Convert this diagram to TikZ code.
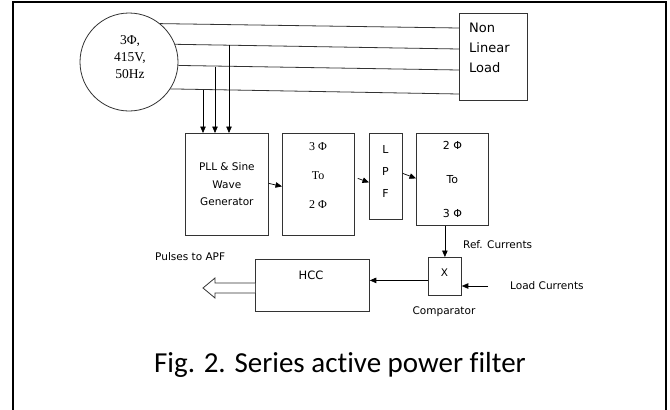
\documentclass[tikz,border=0pt]{standalone}
\usepackage{fontspec}
\setmainfont{Liberation Serif}
\setsansfont{DejaVu Sans}
\newfontfamily\legenda[Ligatures={NoCommon,NoContextual}]{Carlito}
\usetikzlibrary{arrows.meta}

\definecolor{cor_linha}{gray}{0.2}

\begin{document}
\begin{tikzpicture}[x=1pt,y=-1pt]
        \tikzset{
            bloco/.style={
                draw=cor_linha,
                line width=0.8pt,
                anchor=north west,
                inner sep=0pt
            },
            txt/.style={
                font=\sffamily\fontsize{10.5}{12}\selectfont,
                inner sep=0pt
            },
            seta/.style={
                draw=black,
                line width=0.7pt,
                -{Triangle[length=6.5pt,width=5.5pt]}
            }
        }
        \useasboundingbox (0,0) rectangle (670,410);
        \draw[black, line width=1.6pt] (13,412) -- (13,2) -- (666,2) -- (666,412);

        % fonte e carga
        \node[draw=cor_linha, line width=0.8pt, circle, minimum size=98pt, inner sep=0pt] (fonte) at (129,62) {};
        \node[align=center, inner sep=0pt, font=\fontsize{13.5}{17}\selectfont] (fonte_txt) at (130,57) {3Φ,\\415V,\\50Hz};
        \node[bloco, minimum width=68pt, minimum height=87pt] (carga) at (459,13) {};
        \node[txt, anchor=west, align=left, font=\sffamily\fontsize{13}{20}\selectfont] (carga_txt) at (469,48) {Non\\Linear\\Load};

        \foreach \ang/\yy [count=\i] in {51/28, 21.5/49, -4.7/70, -33.4/94} {
            \coordinate (c\i) at (459,\yy);
            \draw[cor_linha, line width=0.8pt] (fonte.\ang) -- (c\i);
        }

        % blocos
        \node[bloco, minimum width=83pt, minimum height=102pt, align=center, font=\sffamily\fontsize{10.5}{17.5}\selectfont] (pll) at (185,133) {PLL \& Sine\\Wave\\Generator};
        \node[bloco, minimum width=72pt, minimum height=102pt] (tf1) at (282,133) {};
        \node[align=center, inner sep=0pt, font=\fontsize{12}{29}\selectfont] (tf1_txt) at (318,176) {3 Φ\\To\\2 Φ};
        \node[bloco, minimum width=33pt, minimum height=86pt] (lpf) at (369,133) {};
        \node[txt, align=center, font=\sffamily\fontsize{11}{22}\selectfont] (lpf_txt) at (385.5,171) {L\\P\\F};
        \node[bloco, minimum width=72pt, minimum height=92pt, align=center, font=\sffamily\fontsize{11}{34}\selectfont] (tf2) at (416,133) {2 Φ\\To\\3 Φ};
        \node[bloco, minimum width=33pt, minimum height=38pt] (comp) at (428,257) {};
        \node[txt] (comp_x) at (444.5,273) {X};
        \node[bloco, minimum width=114pt, minimum height=52pt] (hcc) at (255,259) {};
        \node[txt, font=\sffamily\fontsize{11.5}{12}\selectfont] (hcc_txt) at (311,275) {HCC};

        % rotulos
        \node[txt, anchor=west] (ref) at (463,245) {Ref. Currents};
        \node[txt, anchor=west] (lc) at (510,286) {Load Currents};
        \node[txt] (comp_txt) at (444,312) {Comparator};
        \node[txt, anchor=west] (pulsos) at (155,257) {Pulses to APF};
        \node[anchor=base, inner sep=0pt, font=\legenda\fontsize{29}{30}\selectfont] (fig) at (340,372) {Fig. 2. Series active power filter};

        % setas
        \foreach \x/\yy [count=\i] in {203/89.5, 215/66.5, 229/44.9} {
            \coordinate (d\i) at (\x,\yy);
            \draw[seta] (d\i) -- (d\i |- pll.north);
        }
        \draw[seta] ([yshift=1pt]pll.east) -- ([yshift=-2pt]tf1.west);
        \draw[seta] ([xshift=3pt,yshift=6pt]tf1.east) -- ([yshift=-6pt]lpf.west);
        \draw[seta] ([yshift=3pt]lpf.east) -- ([yshift=1pt]tf2.west);
        \draw[seta] (comp.north |- tf2.south) -- (comp.north);
        \draw[seta] ([xshift=-22pt]lc.west) -- (comp.east |- lc.west);
        \draw[seta] ([yshift=-4pt]comp.west) -- ([yshift=-4pt]comp.west -| hcc.east);

        % seta vazada
        \draw[cor_linha, line width=0.8pt, fill=white] (hcc.west |- 0,283) -- (215,283) -- (215,278) -- (203,288) -- (215,298) -- (215,293) -- (hcc.west |- 0,293);

    \end{tikzpicture}
\end{document}
